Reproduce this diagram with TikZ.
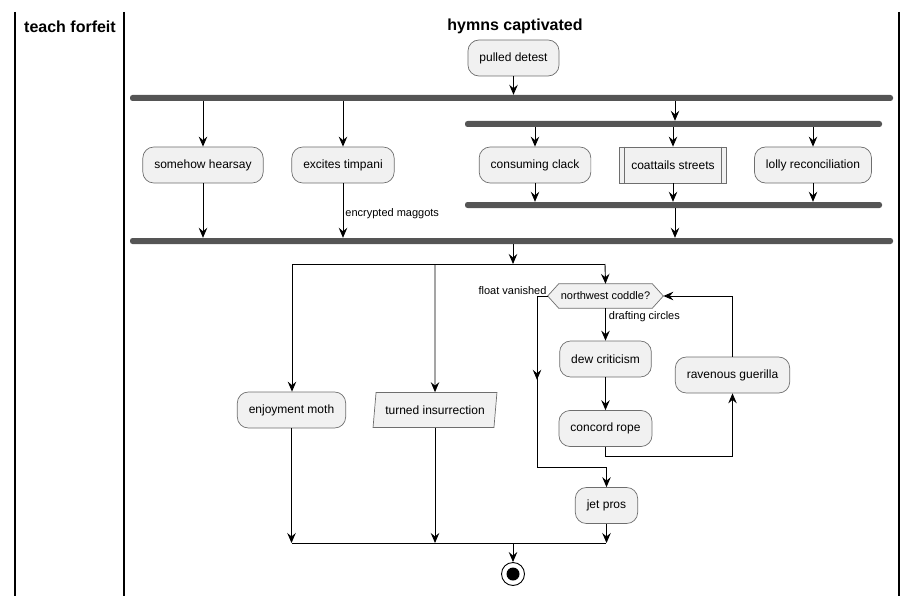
\documentclass[tikz,border=0pt]{standalone}
\usepackage{fontspec}
\setmainfont{Liberation Sans}
\usetikzlibrary{arrows.meta,shapes.geometric,calc,backgrounds}
\definecolor{act-fill}{RGB}{241,241,241}
\definecolor{act-line}{RGB}{110,110,110}
\definecolor{bar-grey}{RGB}{85,85,85}

\tikzset{
  act/.style={draw=act-line, fill=act-fill, line width=0.7pt, rounded corners=11pt,
    minimum height=36pt, inner xsep=11.5pt, font=\fontsize{12}{14}\selectfont},
  subact/.style={act, rounded corners=0pt},
  ioact/.style={draw=act-line, fill=act-fill, line width=0.7pt, trapezium,
    trapezium left angle=74, trapezium right angle=106, trapezium stretches=true,
    minimum width=124pt, minimum height=35pt, inner sep=0pt, font=\fontsize{12}{14}\selectfont},
  bar/.style={fill=bar-grey, rounded corners=2.5pt, minimum height=6pt, inner sep=0pt},
  flow/.style={line width=0.9pt, -{Stealth[length=10pt,width=8.5pt,inset=3.5pt]}},
  plain/.style={line width=0.9pt},
  lab/.style={font=\fontsize{11}{13}\selectfont, inner sep=2pt},
  lanetitle/.style={font=\bfseries\fontsize{16}{19}\selectfont},
  lane/.style={line width=1.2pt}
}

\begin{document}
\begin{tikzpicture}[x=1pt, y=-1pt]
\useasboundingbox (0,0) rectangle (917,596);

% Lanes
\draw[lane] (15,12) -- (15,596);
\draw[lane] (124,12) -- (124,596);
\draw[lane] (899,12) -- (899,596);
\node[lanetitle] (laneA) at (70,26.5)  {teach forfeit};
\node[lanetitle] (laneB) at (515,26.5) {hymns captivated};

% Start
\node[act] (detest) at (513.5,58) {pulled detest};

% Fork bars
\node[bar, minimum width=763pt] (bar1) at (511.5,98)  {};
\node[bar, minimum width=417pt] (bar2) at (673.5,124) {};
\node[bar, minimum width=417pt] (bar3) at (673.5,205) {};
\node[bar, minimum width=763pt] (bar4) at (511.5,241) {};

% Row of parallel activities
\node[act]    (hearsay) at (203,165) {somehow hearsay};
\node[act]    (timpani) at (343,165) {excites timpani};
\node[act]    (clack)   at (535,165) {consuming clack};
\node[subact] (coat)    at (673,165) {coattails streets};
\node[act]    (lolly)   at (813,165) {lolly reconciliation};
\draw[act-line, line width=0.7pt]
  ($(coat.north west)+(5,0)$) -- ($(coat.south west)+(5,0)$)
  ($(coat.north east)+(-5,0)$) -- ($(coat.south east)+(-5,0)$);

% Split and merge points
\coordinate (splitL) at (292,264);
\coordinate (splitM) at (513,264);
\coordinate (splitR) at (605,264);
\coordinate (elseL)  at (537,467);
\coordinate (mergeL) at (292,543);
\coordinate (mergeM) at (513,543);
\coordinate (mergeR) at (606,543);

% Lower branches
\node[act]   (moth)  at (291.5,410) {enjoyment moth};
\node[ioact] (insur) at (435,410)   {turned insurrection};
\node[lab, minimum height=24pt, inner xsep=13pt] (cond) at (605.5,296) {northwest coddle?};
\begin{scope}[on background layer]
\draw[act-line, fill=act-fill, line width=0.7pt]
  (cond.west) -- ([xshift=11pt]cond.north west) -- ([xshift=-11pt]cond.north east)
  -- (cond.east) -- ([xshift=-11pt]cond.south east) -- ([xshift=11pt]cond.south west) -- cycle;
\end{scope}
\node[act] (dew)   at (605.5,359) {dew criticism};
\node[act] (rope)  at (605.5,428.5) {concord rope};
\node[act] (raven) at (732.5,375) {ravenous guerilla};
\node[act] (jet)   at (606.5,505.5) {jet pros};

% End
\node[circle, draw, line width=0.9pt, fill=white, minimum size=23pt, inner sep=0pt] (stop) at (513,574) {};
\fill (stop.center) circle (6.5pt);

% Upper connectors
\draw[flow] (detest.south) -- (detest.south |- bar1.north);
\draw[flow] (bar1.south -| hearsay) -- (hearsay.north);
\draw[flow] (bar1.south -| timpani) -- (timpani.north);
\draw[flow] (bar1.south -| 675,0) -- (675,0 |- bar2.north);
\draw[flow] (bar2.south -| clack) -- (clack.north);
\draw[flow] (bar2.south -| coat) -- (coat.north);
\draw[flow] (bar2.south -| lolly) -- (lolly.north);
\draw[flow] (clack.south) -- (clack.south |- bar3.north);
\draw[flow] (coat.south) -- (coat.south |- bar3.north);
\draw[flow] (lolly.south) -- (lolly.south |- bar3.north);
\draw[flow] (bar3.south -| 675,0) -- (675,0 |- bar4.north);
\draw[flow] (hearsay.south) -- (hearsay.south |- bar4.north);
\draw[flow] (timpani.south) -- (timpani.south |- bar4.north)
  node[lab, pos=0.55, anchor=west] {encrypted maggots};

% Lower connectors
\draw[flow] (bar4.south -| splitM) -- (splitM);
\draw[plain] (splitL) -- (splitR);
\draw[flow] (splitL) -- (splitL |- moth.north);
\draw[flow] (insur.center |- splitL) -- (insur.north);
\draw[flow] (splitR) -- (cond.north);
\draw[flow] (cond.south) -- (dew.north)
  node[lab, pos=0.25, anchor=west, xshift=1pt] {drafting circles};
\draw[flow] (dew.south) -- (rope.north);
\draw[flow] (rope.south) -- ++(0,10) -| (raven.south);
\draw[flow] (raven.north) |- (cond.east);
\draw[flow] (cond.west) -| (elseL) -| (jet.north);
\draw[flow] (cond.west -| elseL) -- ($(cond.west -| elseL)!0.49!(elseL)$);
\node[lab, anchor=south east, inner sep=1pt] (elseLab) at (cond.west) {float vanished};
\draw[flow] (moth.south) -- (moth.south |- mergeL);
\draw[flow] (insur.south) -- (insur.south |- mergeL);
\draw[flow] (jet.south) -- (jet.south |- mergeL);
\draw[plain] (mergeL) -- (mergeR);
\draw[flow] (mergeM) -- (stop.north);

\end{tikzpicture}
\end{document}
